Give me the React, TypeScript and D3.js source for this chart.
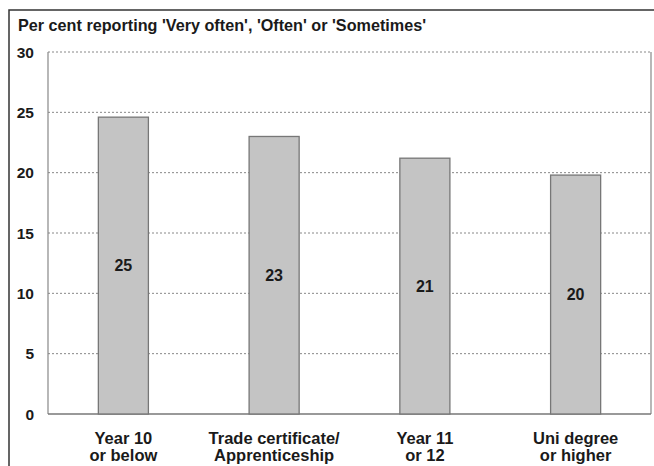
import React from "react";
import * as d3 from "d3";

const categories: string[][] = [
  ["Year 10", "or below"],
  ["Trade certificate/", "Apprenticeship"],
  ["Year 11", "or 12"],
  ["Uni degree", "or higher"],
];
const values: number[] = [24.6, 23.0, 21.2, 19.8];
const yTicks: number[] = [0, 5, 10, 15, 20, 25, 30];
const title = "Per cent reporting 'Very often', 'Often' or 'Sometimes'";

const W = 654;
const H = 466;
const plot = { left: 48, right: 651, top: 52, bottom: 414 };
const FONT = "Arial, 'Liberation Sans', Helvetica, sans-serif";

export default function App() {
  const x = d3
    .scaleBand<number>()
    .domain(values.map((_, i) => i))
    .range([plot.left, plot.right])
    .paddingInner(0.668)
    .paddingOuter(0.334);
  const y = d3.scaleLinear().domain([0, 30]).range([plot.bottom, plot.top]);
  const fmt = d3.format(".0f");

  return (
    <svg
      width={W}
      height={H}
      style={{ position: "absolute", left: 0, top: 0, background: "#fff" }}
      fontFamily={FONT}
    >
      {/* outer frame */}
      <rect x={9} y={10} width={W} height={H} fill="none" stroke="#333" strokeWidth={1.5} />

      <text x={18} y={31} fontSize={16.2} fontWeight="bold" fill="#1a1a1a">
        {title}
      </text>

      {/* gridlines */}
      {yTicks
        .filter((t) => t > 0)
        .map((t) => (
          <line
            key={t}
            x1={plot.left}
            x2={plot.right}
            y1={y(t)}
            y2={y(t)}
            stroke="#888"
            strokeWidth={1}
            strokeDasharray="2,2"
          />
        ))}

      {/* plot area sides and baseline */}
      <line x1={plot.left} x2={plot.left} y1={plot.top} y2={plot.bottom} stroke="#888" strokeWidth={1.2} />
      <line x1={plot.right} x2={plot.right} y1={plot.top} y2={plot.bottom} stroke="#888" strokeWidth={1.2} />
      <line x1={plot.left} x2={plot.right} y1={plot.bottom} y2={plot.bottom} stroke="#777" strokeWidth={1.4} />

      {/* y tick labels */}
      {yTicks.map((t) => (
        <text
          key={t}
          x={34}
          y={y(t)}
          dy="0.36em"
          textAnchor="end"
          fontSize={15.5}
          fontWeight="bold"
          fill="#1a1a1a"
        >
          {t}
        </text>
      ))}

      {/* bars */}
      {values.map((v, i) => (
        <g key={i}>
          <rect
            x={x(i)}
            y={y(v)}
            width={x.bandwidth()}
            height={y(0) - y(v)}
            fill="#c4c4c4"
            stroke="#777"
            strokeWidth={1.3}
          />
          <text
            x={(x(i) as number) + x.bandwidth() / 2}
            y={(y(v) + y(0)) / 2}
            dy="0.36em"
            textAnchor="middle"
            fontSize={16}
            fontWeight="bold"
            fill="#1a1a1a"
          >
            {fmt(v)}
          </text>
        </g>
      ))}

      {/* category labels */}
      {categories.map((lines, i) => (
        <text
          key={i}
          x={(x(i) as number) + x.bandwidth() / 2}
          textAnchor="middle"
          fontSize={16.5}
          fontWeight="bold"
          fill="#1a1a1a"
        >
          {lines.map((l, j) => (
            <tspan key={j} x={(x(i) as number) + x.bandwidth() / 2} y={443.5 + j * 17.4}>
              {l}
            </tspan>
          ))}
        </text>
      ))}
    </svg>
  );
}
